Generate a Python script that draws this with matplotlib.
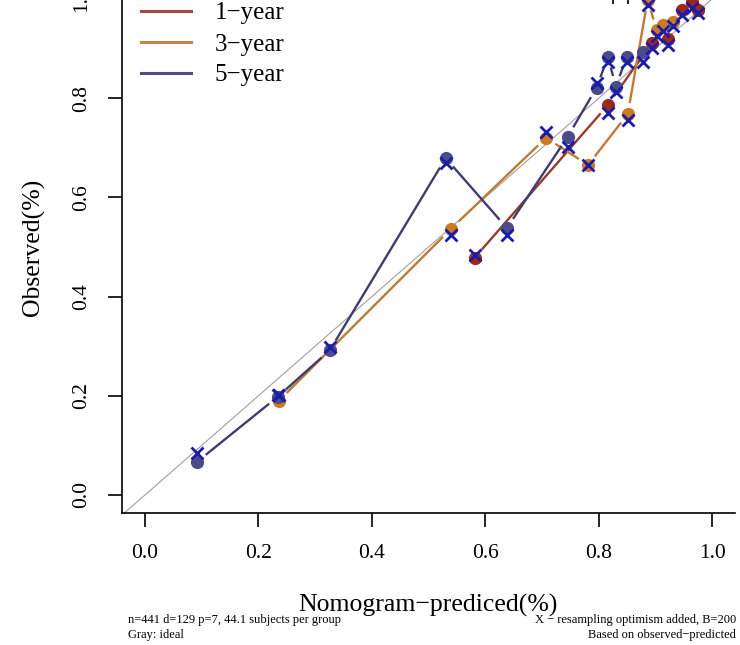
import numpy as np
import matplotlib
matplotlib.use("Agg")
import matplotlib.pyplot as plt
from matplotlib.collections import LineCollection
from matplotlib.lines import Line2D

plt.rcParams['font.family'] = ['Liberation Serif', 'DejaVu Serif']

# 1-year
pred_1 = [0.581, 0.816, 0.893, 0.922, 0.946, 0.964, 0.974]
obs_1 = [0.478, 0.786, 0.911, 0.919, 0.978, 0.994, 0.978]
corr_1 = [0.484, 0.770, 0.901, 0.907, 0.968, 0.982, 0.972]

# 3-year
pred_3 = [0.236, 0.539, 0.707, 0.781, 0.851, 0.886, 0.902, 0.913, 0.930]
obs_3 = [0.190, 0.536, 0.720, 0.665, 0.768, 0.998, 0.937, 0.948, 0.954]
corr_3 = [0.202, 0.524, 0.732, 0.665, 0.756, 0.988, 0.925, 0.935, 0.945]

# 5-year
pred_5 = [0.092, 0.234, 0.326, 0.530, 0.638, 0.745, 0.796, 0.816, 0.830, 0.849, 0.878]
obs_5 = [0.067, 0.198, 0.292, 0.679, 0.538, 0.722, 0.821, 0.883, 0.823, 0.883, 0.893]
corr_5 = [0.085, 0.202, 0.298, 0.669, 0.524, 0.702, 0.831, 0.873, 0.813, 0.873, 0.873]

# error bar tops visible at the upper edge
err_x = [0.825, 0.851]
err_lo = [0.99, 0.99]
err_hi = [1.04, 1.04]

labels = ['1\u2212year', '3\u2212year', '5\u2212year']
line_cols = ['#9a3a2e', '#c07a34', '#3e3e6e']
pt_cols = ['#9b2a1a', '#cc7a26', '#4b4b8b']
leg_cols = ['#a84444', '#c4864c', '#4c4c8c']
x_col = '#1c1ca8'

fig = plt.figure(figsize=(7.4, 6.45), dpi=100)
ax = fig.add_axes([122 / 740, 1 - 513 / 645, 613 / 740, 534 / 645])
ax.set_xlim(-0.0405, 1.04)
ax.set_ylim(-0.0363, 1.04)

for s in ['top', 'right']:
    ax.spines[s].set_visible(False)
for s in ['left', 'bottom']:
    ax.spines[s].set_linewidth(1.2)

ax.set_xticks([0.0, 0.2, 0.4, 0.6, 0.8, 1.0])
ax.set_yticks([0.0, 0.2, 0.4, 0.6, 0.8, 1.0])
ax.tick_params(length=10, width=1.2, labelsize=15.5, pad=12)
for lab in ax.get_yticklabels():
    lab.set_rotation(90)
    lab.set_va('center')

# gray ideal line
ax.axline((0, 0), (1, 1), color='#a0a0a0', lw=0.8, zorder=1)


def gapped(xs, ys, gap=11):
    # R type="b": segments that stop short of the points
    pts = ax.transData.transform(np.column_stack([xs, ys]))
    segs = []
    inv = ax.transData.inverted()
    for a, b in zip(pts[:-1], pts[1:]):
        d = b - a
        n = np.hypot(*d)
        if n <= 2 * gap + 2:
            continue
        u = d / n
        segs.append(inv.transform([a + u * gap, b - u * gap]))
    return segs


series = [(pred_1, obs_1, corr_1), (pred_3, obs_3, corr_3), (pred_5, obs_5, corr_5)]
for k, (p, o, c) in enumerate(series):
    lc = LineCollection(gapped(p, o), colors=line_cols[k], linewidths=1.7, zorder=2)
    ax.add_collection(lc)
    ax.plot(p, o, 'o', color=pt_cols[k], ms=8.5, mec=pt_cols[k], zorder=3, clip_on=False)
for k, (p, o, c) in enumerate(series):
    ax.plot(p, c, 'x', color=x_col, ms=8.5, mew=2, zorder=4, clip_on=False)

ax.vlines(err_x, err_lo, err_hi, color='black', lw=1.2, zorder=2)

handles = [Line2D([], [], color=col, lw=2.2) for col in leg_cols]
fig.legend(handles, labels, loc='upper left', bbox_to_anchor=(141 / 740, 1 - 2 / 645),
           frameon=False, fontsize=18, handlelength=2.0, handletextpad=0.95,
           labelspacing=0.34, borderpad=0, borderaxespad=0)

fig.text(33 / 740, 1 - 247 / 645, 'Observed(%)', rotation=90, ha='center', va='center', fontsize=18.5)
fig.text(428 / 740, 1 - 605 / 645, 'Nomogram\u2212prediced(%)', ha='center', va='center', fontsize=18.5)

fig.text(128 / 740, 1 - 620 / 645, 'n=441 d=129 p=7, 44.1 subjects per group', ha='left', va='center', fontsize=9)
fig.text(128 / 740, 1 - 635 / 645, 'Gray: ideal', ha='left', va='center', fontsize=9)
fig.text(736 / 740, 1 - 620 / 645, 'X \u2212 resampling optimism added, B=200', ha='right', va='center', fontsize=9)
fig.text(736 / 740, 1 - 635 / 645, 'Based on observed\u2212predicted', ha='right', va='center', fontsize=9)

fig.savefig('out.png', dpi=100, facecolor='white')
